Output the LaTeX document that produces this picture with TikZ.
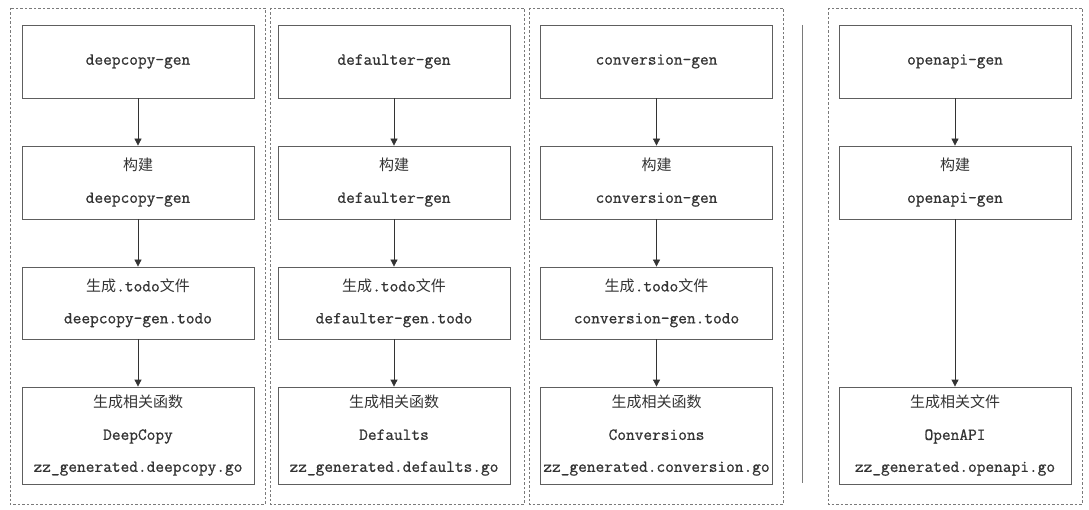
\documentclass[tikz,border=0pt]{standalone}
\usepackage{fontspec}
\newfontfamily\codefont[FakeBold=0.9]{Latin Modern Mono}
\newfontfamily\cjk{Noto Sans CJK SC}
\usetikzlibrary{arrows.meta,positioning}
\definecolor{boxgray}{HTML}{5E5E5E}
\definecolor{textgray}{HTML}{333333}
\definecolor{dashgray}{HTML}{7A7A7A}

\begin{document}
\begin{tikzpicture}[
  x=1pt, y=-1pt, >={Triangle[width=7pt,length=7pt]},
  stepbox/.style={draw=boxgray, line width=0.8pt, minimum width=232pt,
    minimum height=73pt, align=center, text=textgray, inner sep=0pt,
    font=\codefont\fontsize{16.9}{32}\selectfont},
  tallbox/.style={stepbox, minimum height=97pt},
  flow/.style={->, draw=textgray, line width=0.8pt},
  groupbox/.style={draw=dashgray, line width=0.8pt, dash pattern=on 2.5pt off 2pt}
]
  \useasboundingbox (0,0) rectangle (1089,510);

  % three generators with .todo files
  \foreach \i/\cx/\gl/\gr/\gen/\fn/\gofile in {1/138/10/265/deepcopy/DeepCopy/deepcopy,
      2/394/270/524/defaulter/Defaults/defaults,
      3/656.5/529/783/conversion/Conversions/conversion} {
    \node[stepbox] (top\i) at (\cx,61.5) {\gen-gen};
    \node[stepbox] (build\i) at (\cx,182.5) {{\cjk\fontsize{15}{32}\selectfont 构建}\\\gen-gen};
    \node[stepbox, minimum height=72pt] (todo\i) at (\cx,303)
      {{\cjk\fontsize{15}{32}\selectfont 生成}.todo{\cjk\fontsize{15}{32}\selectfont 文件}\\\gen-gen.todo};
    \node[tallbox] (func\i) at (\cx,435.5)
      {{\cjk\fontsize{15}{32}\selectfont 生成相关函数}\\\fn\\zz\_generated.\gofile.go};
    \draw[flow] (top\i) -- (build\i);
    \draw[flow] (build\i) -- (todo\i);
    \draw[flow] (todo\i) -- (func\i);
    \draw[groupbox] (\gl,8) rectangle (\gr,504);
  }

  % separator
  \draw[dashgray, line width=0.8pt] (802,25) -- (802,483);

  % openapi
  \node[stepbox] (top4) at (955,61.5) {openapi-gen};
  \node[stepbox] (build4) at (955,182.5) {{\cjk\fontsize{15}{32}\selectfont 构建}\\openapi-gen};
  \node[tallbox] (func4) at (955,435.5)
    {{\cjk\fontsize{15}{32}\selectfont 生成相关文件}\\OpenAPI\\zz\_generated.openapi.go};
  \draw[flow] (top4) -- (build4);
  \draw[flow] (build4) -- (func4);
  \draw[groupbox] (828,8) rectangle (1082,504);
\end{tikzpicture}
\end{document}
